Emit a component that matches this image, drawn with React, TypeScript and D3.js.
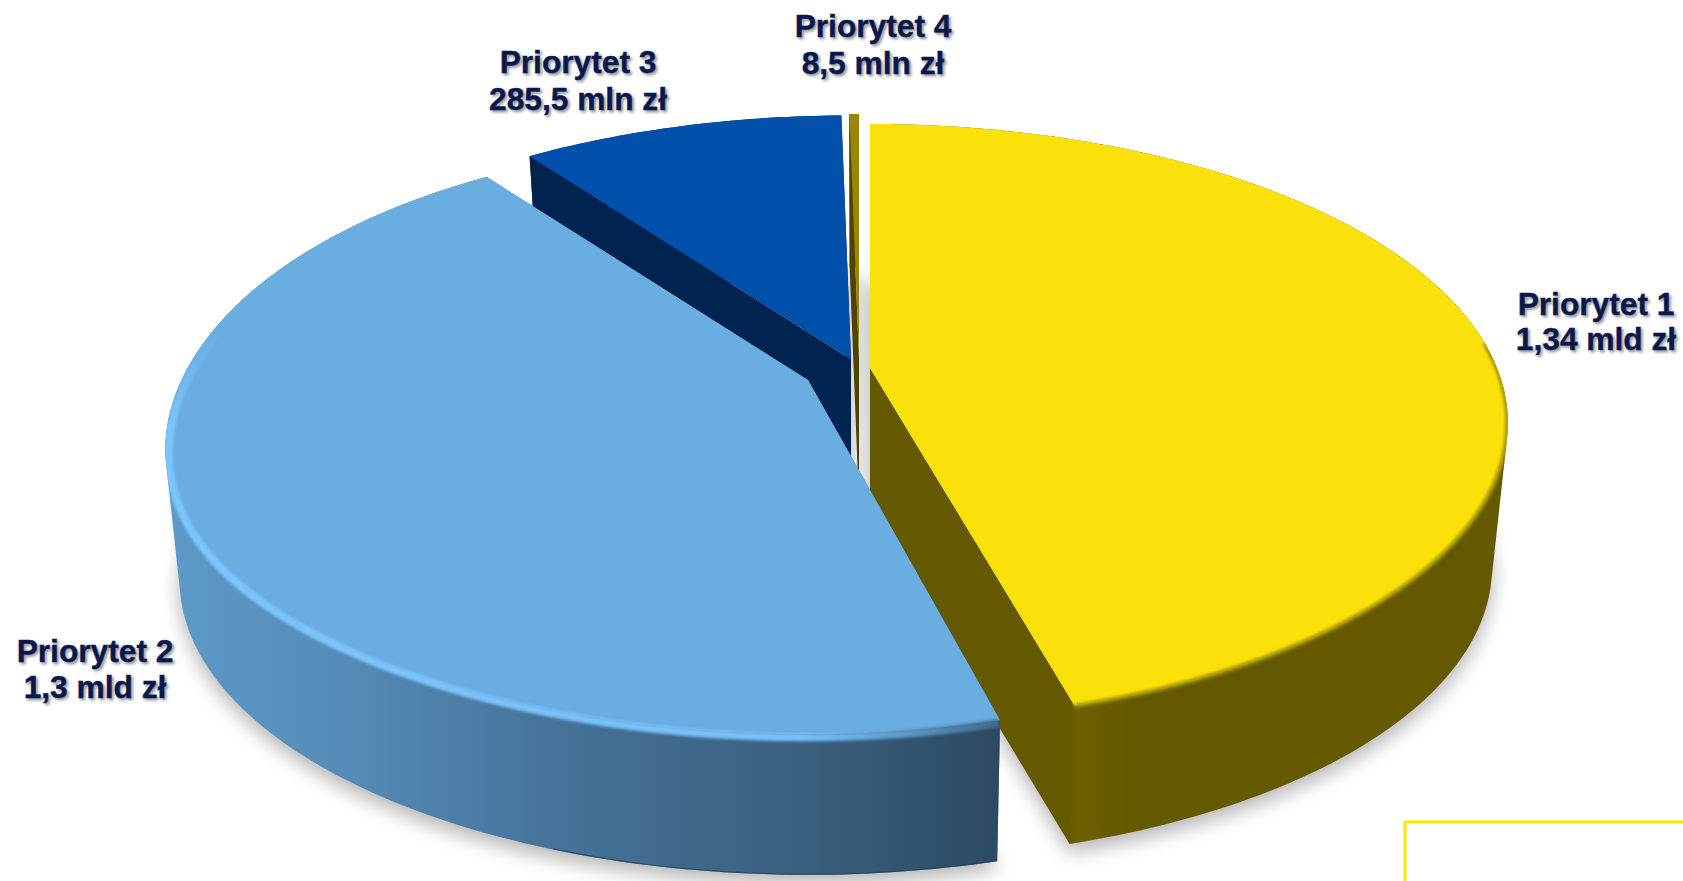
import React from "react";
import * as d3 from "d3";

// ---- data ----
const categories = ["Priorytet 1", "Priorytet 2", "Priorytet 3", "Priorytet 4"];
const amounts = [1340, 1300, 285.5, 8.5];
const amountLabels = ["1,34 mld zł", "1,3 mld zł", "285,5 mln zł", "8,5 mln zł"];

// ---- layout ----
const W = 1683;
const H = 881;
const apexes: [number, number][] = [[870, 368], [808, 380], [851, 359.5], [859, 358]];
const startTrimDeg = [0, 1, 0, 0];
const bottomScale = [0.975, 0.985, 0.97, 0.97];
const bulge = [0, 1, 0, 0]; // slice 2's rim sags a little on its left side in the reference
const drawOrder = [2, 3, 0, 1];
const topFill = ["#fbe10a", "#6aade0", "#0050ac", "#9a8600"];
const wallFill = ["#655900", "#4a7ba3", "#00234f", "#4f4300"];
const outerFill = ["url(#wallP1)", "url(#wallP2)", "#00234f", "#4f4300"];
const labelPos: [number, number, number][] = [
  [1596, 315, 350],
  [95, 662, 698],
  [578, 73, 110],
  [873, 37, 74],
];

const PERSP = 0.184;
const AX = 627;
const AY = 289;
const DEPTH = 146;
const DEG = Math.PI / 180;

type Pt = [number, number];

function project(i: number, angle: number, r: number, bottom: boolean): Pt {
  const apex = apexes[i];
  const u = r * Math.sin(angle);
  const v = r * Math.cos(angle);
  const w = 1 + PERSP * v;
  const s = bottom ? bottomScale[i] : 1;
  const x = apex[0] + (AX * s * u) / w;
  const y = apex[1] + (bottom ? DEPTH : 0) - (AY * s * v) / w;
  if (bottom || !bulge[i]) return [x, y];
  const k = Math.exp(-Math.pow((angle / DEG - 252) / 35, 2)) * bulge[i];
  return [x - 5 * k, y + 13 * k];
}

const lineGen = d3.line<Pt>().x((d) => d[0]).y((d) => d[1]);

function angleSamples(a0: number, a1: number): number[] {
  const n = Math.max(2, Math.ceil((a1 - a0) / DEG));
  return d3.range(n + 1).map((i) => a0 + ((a1 - a0) * i) / n);
}

const arcs = d3
  .pie<number>()
  .sort(null)
  .value((d) => d)(amounts)
  .map((a, i) => ({
    i,
    a0: a.startAngle + startTrimDeg[i] * DEG,
    a1: a.endAngle,
  }));

function rim(i: number, a0: number, a1: number, bottom: boolean, r = 1): Pt[] {
  return angleSamples(a0, a1).map((a) => project(i, a, r, bottom));
}

function facePath(i: number, bottom: boolean): string {
  const arc = arcs[i];
  const ap = apexes[i];
  const centre: Pt = [ap[0], ap[1] + (bottom ? DEPTH : 0)];
  return lineGen([centre, ...rim(i, arc.a0, arc.a1, bottom)]) + "Z";
}

function outerWall(i: number): string {
  const arc = arcs[i];
  const hull = d3.polygonHull([...rim(i, arc.a0, arc.a1, false), ...rim(i, arc.a0, arc.a1, true)]);
  return lineGen(hull as Pt[]) + "Z";
}

function radialWall(i: number, a: number): string {
  const ap = apexes[i];
  return (
    lineGen([
      ap,
      project(i, a, 1, false),
      project(i, a, 1, true),
      [ap[0], ap[1] + DEPTH],
    ]) + "Z"
  );
}

export default function App() {
  return (
    <svg
      width={W}
      height={H}
      viewBox={`0 0 ${W} ${H}`}
      style={{ position: "absolute", left: 0, top: 0, display: "block", background: "#fff" }}
      fontFamily="'Liberation Sans', Arial, sans-serif"
    >
      <defs>
        <filter id="ground" filterUnits="userSpaceOnUse" x={0} y={0} width={W} height={H + 80}>
          <feGaussianBlur stdDeviation={10} />
        </filter>
        <filter id="soft" filterUnits="userSpaceOnUse" x={0} y={0} width={W} height={H}>
          <feGaussianBlur stdDeviation={1.5} />
        </filter>
        <linearGradient id="wallP1" gradientUnits="userSpaceOnUse" x1={1060} x2={1160} y1={0} y2={0}>
          <stop offset="0.1" stopColor="#655900" />
          <stop offset="0.16" stopColor="#6c6000" />
          <stop offset="0.7" stopColor="#655900" />
          <stop offset="1" stopColor="#655900" />
        </linearGradient>
        <linearGradient id="wallP2" gradientUnits="userSpaceOnUse" x1={170} x2={1000} y1={0} y2={0}>
          <stop offset="0" stopColor="#5d9ac8" />
          <stop offset="0.217" stopColor="#558bb6" />
          <stop offset="0.458" stopColor="#45739a" />
          <stop offset="0.76" stopColor="#3a607f" />
          <stop offset="1" stopColor="#2c4a62" />
        </linearGradient>
        <linearGradient id="bevelP2" gradientUnits="userSpaceOnUse" x1={166} x2={1000} y1={0} y2={0}>
          <stop offset="0" stopColor="#7cc6ff" />
          <stop offset="0.76" stopColor="#78c0f8" />
          <stop offset="0.88" stopColor="#5f9ccb" />
          <stop offset="1" stopColor="#3f6a8e" />
        </linearGradient>
        <linearGradient id="bevelFade" gradientUnits="userSpaceOnUse" x1={0} x2={0} y1={330} y2={430}>
          <stop offset="0" stopColor="#000" />
          <stop offset="1" stopColor="#fff" />
        </linearGradient>
        <mask id="bevelMask" maskUnits="userSpaceOnUse" x={0} y={0} width={W} height={H}>
          <rect x={0} y={0} width={W} height={H} fill="url(#bevelFade)" />
        </mask>
        {[0, 1].map((i) => (
          <clipPath id={`solid${i}`} key={i}>
            <path d={outerWall(i)} />
            <path d={facePath(i, false)} />
          </clipPath>
        ))}
      </defs>

      <g filter="url(#ground)" transform="translate(0,8)" fill="#000" opacity={0.3}>
        {arcs.map((a) => (
          <path key={a.i} d={facePath(a.i, true)} />
        ))}
      </g>

      {drawOrder.map((i) => {
        const arc = arcs[i];
        return (
          <g key={i}>
            <path d={radialWall(i, arc.a0)} fill={wallFill[i]} />
            <path d={radialWall(i, arc.a1)} fill={wallFill[i]} />
            <path d={outerWall(i)} fill={outerFill[i]} />
            <path d={facePath(i, false)} fill={topFill[i]} />
            {i === 0 && (
              <g clipPath="url(#solid0)">
                <path
                  d={lineGen(rim(0, 85 * DEG, arc.a1, false, 0.999)) ?? ""}
                  fill="none"
                  stroke="#a39200"
                  strokeWidth={4}
                  filter="url(#soft)"
                />
              </g>
            )}
            {i === 1 && (
              <g clipPath="url(#solid1)">
                <g mask="url(#bevelMask)">
                  <path
                    transform="translate(0,5)"
                    d={lineGen(rim(1, arc.a0, 285 * DEG, false, 0.995)) ?? ""}
                    fill="none"
                    stroke="url(#bevelP2)"
                    strokeWidth={8}
                    filter="url(#soft)"
                  />
                </g>
                <path
                  d={lineGen(rim(1, arc.a0, 200 * DEG, true)) ?? ""}
                  fill="none"
                  stroke="#27425a"
                  strokeWidth={2.5}
                  opacity={0.7}
                />
              </g>
            )}
          </g>
        );
      })}

      <g
        fontSize={31.7}
        fontWeight={700}
        fill="#0a1a50"
        stroke="#0a1a50"
        strokeWidth={0.4}
        textAnchor="middle"
        style={{ textShadow: "2px 2px 3px rgba(0,0,0,0.4)" }}
      >
        {categories.map((c, i) => (
          <g key={c}>
            <text x={labelPos[i][0]} y={labelPos[i][1]}>{c}</text>
            <text x={labelPos[i][0]} y={labelPos[i][2]}>{amountLabels[i]}</text>
          </g>
        ))}
      </g>

      <rect x={1405} y={822} width={400} height={200} fill="none" stroke="#ffe600" strokeWidth={3} />
    </svg>
  );
}
